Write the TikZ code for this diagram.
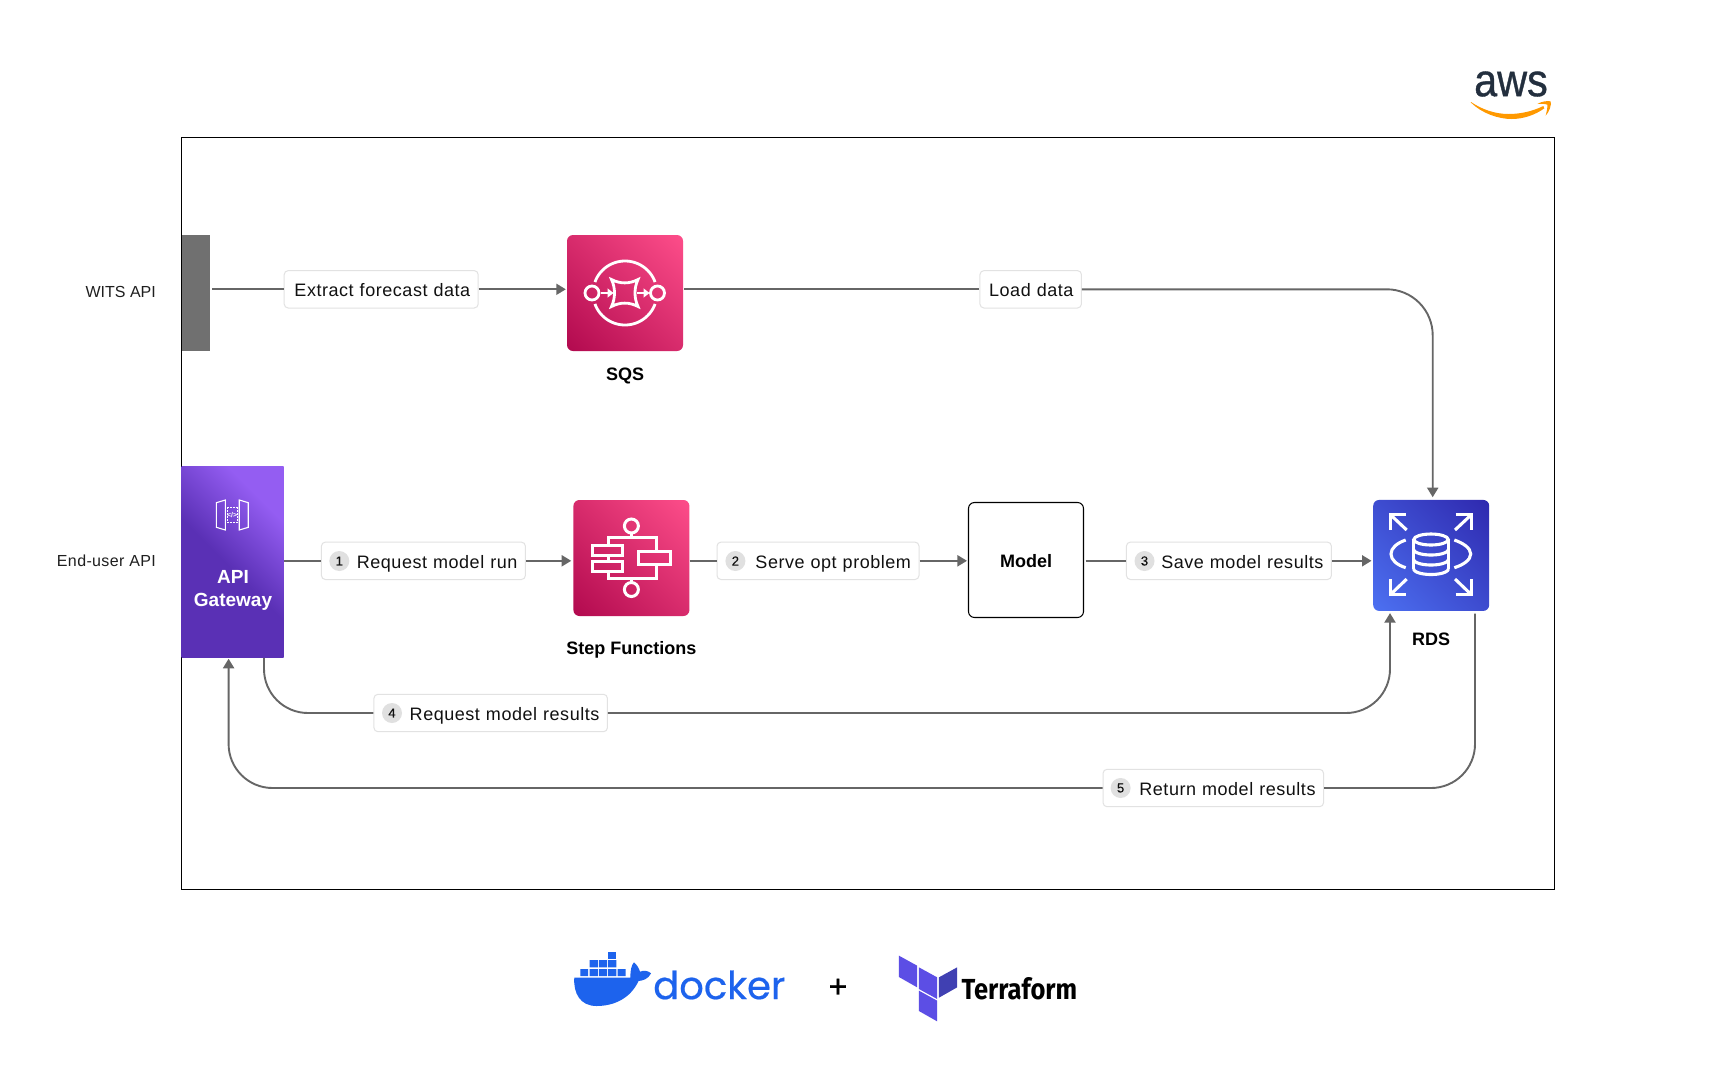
\documentclass[tikz,border=0pt]{standalone}
\usepackage{fontspec}
\usetikzlibrary{arrows.meta,calc}
\setmainfont{Liberation Sans}
\newfontfamily\labfont[LetterSpace=3]{Liberation Sans}
\newfontfamily\sidefont[LetterSpace=2.3]{Liberation Sans}
\newfontfamily\numfont[FakeBold=0.4]{Liberation Sans}
\newfontfamily\awsfont[FakeBold=0.8]{Liberation Sans}
\newfontfamily\plusfont[FakeBold=1]{Liberation Sans}
\newfontfamily\dockerfont[FakeBold=0.5]{Poppins}
\newfontfamily\tfont[FakeStretch=0.88]{Fira Sans}
\definecolor{ink}{HTML}{111111}
\definecolor{conn}{HTML}{666666}
\definecolor{pinkA}{HTML}{B0084D}
\definecolor{pinkB}{HTML}{FF4F8B}
\definecolor{rdsA}{HTML}{4D72F3}
\definecolor{rdsB}{HTML}{2E27AD}
\definecolor{gwA}{HTML}{5A30B5}
\definecolor{gwB}{HTML}{945DF2}
\definecolor{lborder}{HTML}{E2E2E2}
\definecolor{badge}{HTML}{E0E0E0}
\definecolor{dockerblue}{HTML}{1D63ED}
\definecolor{tfA}{HTML}{5C4EE5}
\definecolor{tfB}{HTML}{4040B2}
\definecolor{awsink}{HTML}{232F3E}
\definecolor{awsorange}{HTML}{FF9900}
\pgfdeclareverticalshading{pinkgrad}{100bp}{color(0bp)=(pinkA); color(13bp)=(pinkA); color(87bp)=(pinkB); color(100bp)=(pinkB)}
\pgfdeclareverticalshading{rdsgrad}{100bp}{color(0bp)=(rdsA); color(13bp)=(rdsA); color(87bp)=(rdsB); color(100bp)=(rdsB)}
\pgfdeclareverticalshading{gwgrad}{100bp}{color(0bp)=(gwA); color(48bp)=(gwA); color(72bp)=(gwB); color(100bp)=(gwB)}
\tikzset{
  wire/.style={draw=conn,line width=1.9pt},
  arrowwire/.style={wire,-{Triangle[length=9.5pt,width=11pt]}},
  lab/.style={draw=lborder,line width=1pt,fill=white,rounded corners=4pt,text=ink,
    font=\fontsize{18}{20}\selectfont\labfont,inner xsep=8pt,inner ysep=0pt,
    text width=#1-16pt,align=right,minimum height=37.4pt,text height=16.6pt,text depth=1.6pt},
  num/.style={circle,fill=badge,text=ink,inner sep=0pt,minimum size=20pt,
    font=\fontsize{13}{13}\selectfont\numfont},
  pinkbox/.style={shade,shading=pinkgrad,shading angle=-45,rounded corners=6pt,inner sep=0pt,
    minimum width=116pt,minimum height=116pt},
  bold/.style={font=\fontsize{18}{22}\selectfont\bfseries,text=black,inner sep=0pt},
  side/.style={font=\fontsize{16}{18}\selectfont,text=black!88,inner sep=0pt,anchor=east},
  ico/.style={draw=white,line width=2.8pt,fill=none},
}
\begin{document}
\begin{tikzpicture}[x=1pt,y=-1pt]
\useasboundingbox (0,0) rectangle (1711,1080);
\fill[white] (0,0) rectangle (1711,1080);
% frame
\node[draw=black,line width=1.05pt,inner sep=0pt,minimum width=1373.5pt,minimum height=752pt] (frame) at (868,513.5) {};

% side texts
\node[side] (wits) at (156,292) {WITS API};
\node[side,font=\fontsize{16}{18}\selectfont\sidefont] (enduser) at (156,560.5) {End-user API};

% boxes
\node[fill=black!56,inner sep=0pt,minimum width=28.6pt,minimum height=116pt] (witsbar) at (196,293) {};
\node[shade,shading=gwgrad,shading angle=-45,inner sep=0pt,minimum width=102pt,minimum height=191.5pt] (gw) at (232.7,561.8) {};
\node[pinkbox] (sqs) at (625,293) {};
\node[pinkbox] (sf) at (631.4,558) {};
\node[draw=black,line width=1.05pt,rounded corners=6pt,inner sep=0pt,minimum width=115pt,minimum height=115pt,text height=15pt,text depth=1pt,font=\fontsize{18}{22}\selectfont\bfseries] (model) at (1026,560) {Model};
\node[shade,shading=rdsgrad,shading angle=-45,rounded corners=6pt,inner sep=0pt,minimum width=116pt,minimum height=111pt] (rds) at (1431.2,555.4) {};

% captions
\node[bold] (sqscap) at (625,376) {SQS};
\node[bold] (sfcap) at (631.4,649.5) {Step Functions};
\node[bold] (rdscap) at (1431,639) {RDS};
\node[bold,text=white,align=center,font=\fontsize{19}{22.3}\selectfont\bfseries] (gwcap) at (233,590.5) {API\\Gateway};

% labels
\node[lab=194pt] (l0) at (381.2,289.3) {Extract forecast data};
\node[lab=101.5pt] (lload) at (1030.7,289.3) {Load data};
\node[lab=204pt] (l1) at (423.4,560.8) {Request model run};
\node[lab=202pt] (l2) at (818,560.8) {Serve opt problem};
\node[lab=205pt] (l3) at (1228.9,560.8) {Save model results};
\node[lab=233.5pt] (l4) at (490.7,713) {Request model results};
\node[lab=220.5pt] (l5) at (1213.3,788) {Return model results};
\node[num] (n1) at (339.3,561) {1};
\node[num] (n2) at (735.4,561) {2};
\node[num] (n3) at (1144.5,561) {3};
\node[num] (n4) at (392,713) {4};
\node[num] (n5) at (1120.6,788) {5};

% connectors
\draw[wire,shorten <=1.5pt] (witsbar.east |- l0.west) -- (l0.west);
\draw[arrowwire,shorten >=1pt] (l0.east) -- (l0.east -| sqs.west);
\draw[wire,shorten <=1pt] (sqs.east |- lload.west) -- (lload.west);
\draw[arrowwire,rounded corners=46pt,shorten >=2.5pt] (lload.east) -| ([xshift=1.5pt]rds.north);
\draw[wire] (gw.east |- l1.west) -- (l1.west);
\draw[arrowwire,shorten >=2pt] (l1.east) -- (l1.east -| sf.west);
\draw[wire] (sf.east |- l2.west) -- (l2.west);
\draw[arrowwire,shorten >=1pt] (l2.east) -- (l2.east -| model.west);
\draw[wire,shorten <=1.5pt] (model.east |- l3.west) -- (l3.west);
\draw[arrowwire,shorten >=1.5pt] (l3.east) -- (l3.east -| rds.west);
\draw[wire,rounded corners=44pt] ([xshift=31.3pt]gw.south) |- (l4.west);
\draw[arrowwire,rounded corners=44pt,shorten >=2pt] (l4.east) -| ([xshift=-41.2pt]rds.south);
\draw[wire,rounded corners=44pt,shorten <=2.5pt] ([xshift=43.8pt]rds.south) |- (l5.east);
\draw[arrowwire,rounded corners=44pt,shorten >=1pt] (l5.west) -| ([xshift=-4.1pt]gw.south);

% SQS icon
\draw[ico] plot[domain=20:160,samples=40,smooth] ({625+32*cos(\x)},{293-32*sin(\x)});
\draw[ico] plot[domain=200:340,samples=40,smooth] ({625+32*cos(\x)},{293-32*sin(\x)});
\draw[ico] (592,293) circle[radius=7];
\draw[ico] (657.5,293) circle[radius=7];
\draw[ico,line join=miter] (611.5,279.5) .. controls (620,284) and (629.5,284) .. (638,279.5)
  .. controls (634,288) and (634,298) .. (638,306.5)
  .. controls (629.5,302) and (620,302) .. (611.5,306.5)
  .. controls (615.5,298) and (615.5,288) .. (611.5,279.5) -- cycle;
\draw[white,line width=2.4pt,-{Triangle[length=6pt,width=9pt]}] (601,293) -- (613.5,293);
\draw[white,line width=2.4pt,-{Triangle[length=6pt,width=9pt]}] (637,293) -- (649.5,293);

% Step Functions icon
\begin{scope}[ico,line width=3pt]
\draw (631.4,526) circle[radius=7];
\draw (631.4,589.5) circle[radius=7];
\draw (631.4,533) -- (631.4,537.5);
\draw (631.4,578.5) -- (631.4,582.5);
\draw (608,545) -- (608,537.5) -- (656.4,537.5) -- (656.4,551.7);
\draw (608,555) -- (608,561.7);
\draw (608,571.7) -- (608,578.5) -- (656.4,578.5) -- (656.4,564.3);
\draw (592,545) rectangle (622.5,555);
\draw (592,561.7) rectangle (622.5,571.7);
\draw (638,551.7) rectangle (670.7,564.3);
\end{scope}

% RDS icon
\begin{scope}[ico,line width=3.1pt,line cap=butt]
\draw (1390.5,530) -- (1390.5,514.8) -- (1406,514.8);
\draw (1390.5,514.8) -- (1406.7,530);
\draw (1455.7,514.8) -- (1471.2,514.8) -- (1471.2,530);
\draw (1471.2,514.8) -- (1455,530);
\draw (1390.5,579) -- (1390.5,594.5) -- (1406,594.5);
\draw (1390.5,594.5) -- (1406.7,579);
\draw (1455.7,594.5) -- (1471.2,594.5) -- (1471.2,579);
\draw (1471.2,594.5) -- (1455,579);
\draw (1405.7,540) .. controls (1397,543) and (1391,548) .. (1391,554) .. controls (1391,560) and (1397,565) .. (1405.7,567.7);
\draw (1454.3,540) .. controls (1463,543) and (1470.7,548) .. (1470.7,554) .. controls (1470.7,560) and (1463,565) .. (1454.3,567.7);
\draw (1431,539.5) ellipse[x radius=17.2,y radius=5.5];
\draw plot[domain=0:180,samples=24,smooth] ({1431+17.2*cos(\x)},{569+5.5*sin(\x)});
\draw (1413.8,539.5) -- (1413.8,569);
\draw (1448.2,539.5) -- (1448.2,569);
\draw plot[domain=0:180,samples=24,smooth] ({1431+17.2*cos(\x)},{549.5+5.5*sin(\x)});
\draw plot[domain=0:180,samples=24,smooth] ({1431+17.2*cos(\x)},{559.5+5.5*sin(\x)});
\end{scope}

% API Gateway icon
\begin{scope}[shift={(160,450)},x=0.35714pt,y=-0.33333pt,draw=white,line width=1.1pt]
\draw (158,158) -- (183,150) -- (183,240) -- (158,232) -- cycle;
\draw (222,150) -- (247,158) -- (247,232) -- (222,240) -- cycle;
\draw[dash pattern=on 1.6pt off 1.4pt] (188,172) -- (218,172);
\draw[dash pattern=on 1.6pt off 1.4pt] (188,218) -- (218,218);
\draw[dash pattern=on 1.6pt off 1.4pt] (188,172) -- (188,218);
\draw[dash pattern=on 1.6pt off 1.4pt] (218,172) -- (218,218);
\node[text=white,inner sep=0pt,font=\fontsize{7}{7}\selectfont\bfseries] (gwcode) at (202,195) {</>};
\end{scope}

% AWS logo
\node[text=awsink,inner sep=0pt,anchor=center] (awsword) at (1511,84) {\scalebox{.9}[1]{\fontsize{46}{46}\selectfont\awsfont aws}};
\begin{scope}[shift={(1440,50)},x=0.33333pt,y=-0.33333pt]
\fill[awsorange] (92,157) .. controls (125,190) and (175,207) .. (215,207) .. controls (250,207) and (285,195) .. (313,175) -- (310,168) .. controls (275,185) and (240,192) .. (205,192) .. controls (165,192) and (125,178) .. (93,156) -- cycle;
\fill[awsorange] (292,162) .. controls (305,154) and (322,152) .. (332,154) .. controls (335,165) and (328,185) .. (317,197) .. controls (320,185) and (323,172) .. (322,164) .. controls (315,161) and (303,161) .. (292,162) -- cycle;
\end{scope}

% Docker logo
\begin{scope}[shift={(550,930)},x=0.35714pt,y=-0.33333pt]
\fill[dockerblue] (163,65) rectangle (186,87);
\fill[dockerblue] (111,90) rectangle (134,112) (137,90) rectangle (160,112) (163,90) rectangle (186,112);
\fill[dockerblue] (85,117) rectangle (107,138) (111,117) rectangle (134,138) (137,117) rectangle (160,138) (163,117) rectangle (186,138) (189,117) rectangle (212,138);
\fill[dockerblue] (68,143) -- (225,143) .. controls (225,120) and (228,105) .. (235,97)
  .. controls (245,105) and (250,118) .. (252,125) .. controls (262,120) and (275,122) .. (283,130)
  .. controls (275,148) and (258,152) .. (248,153) .. controls (225,205) and (180,228) .. (130,228)
  .. controls (85,228) and (65,190) .. (68,143) -- cycle;
\end{scope}
\node[text=dockerblue,inner sep=0pt,anchor=west,font=\fontsize{38.5}{39}\selectfont\dockerfont] (dockerword) at (653,985) {docker};

% plus
\node[text=black,inner sep=0pt,font=\fontsize{32}{32}\selectfont\plusfont] (plus) at (838,988) {+};

% Terraform logo
\begin{scope}[shift={(550,930)},x=0.35714pt,y=-0.33333pt]
\fill[tfA] (977,77) -- (1028,107) -- (1028,172) -- (977,141) -- cycle;
\fill[tfA] (1033,112) -- (1084,142) -- (1084,207) -- (1033,177) -- cycle;
\fill[tfB] (1089,142) -- (1140,112) -- (1140,172) -- (1089,203) -- cycle;
\fill[tfA] (1033,182) -- (1084,212) -- (1084,274) -- (1033,243) -- cycle;
\end{scope}
\node[text=black,inner sep=0pt,anchor=west,font=\fontsize{29}{29}\selectfont\tfont\bfseries] (tfword) at (961.5,989) {Terraform};
\end{tikzpicture}
\end{document}
